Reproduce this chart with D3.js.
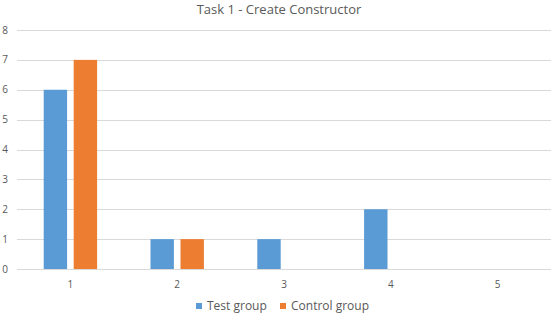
<!DOCTYPE html>
<html>
<head>
<meta charset="utf-8">
<script src="https://cdn.jsdelivr.net/npm/d3@7"></script>
<style>
  body { margin: 0; background: #fff; }
  text { font-family: "Open Sans", "Noto Sans", sans-serif; }
</style>
</head>
<body>
<div id="chart"></div>
<script>
var title = "Task 1 - Create Constructor";
var categories = ["1", "2", "3", "4", "5"];
var series_names = ["Test group", "Control group"];
var test_group = [6, 1, 1, 2, 0];
var control_group = [7, 1, 0, 0, 0];
var y_ticks = [0, 1, 2, 3, 4, 5, 6, 7, 8];
var colors = ["#5b9bd5", "#ed7d31"];

var width = 553, height = 317;
var margin = {top: 30, right: 2, bottom: 48, left: 17};

var svg = d3.select("#chart").append("svg")
  .attr("width", width)
  .attr("height", height);

var x = d3.scaleBand()
  .domain(categories)
  .range([margin.left, width - margin.right])
  .paddingInner(0)
  .paddingOuter(0);

var x_inner = d3.scaleBand()
  .domain(series_names)
  .range([26.7, x.bandwidth() - 26.7])
  .paddingInner(0.22);

var y = d3.scaleLinear()
  .domain([0, 8])
  .range([height - margin.bottom, margin.top]);

//gridlines
svg.append("g")
  .selectAll("line")
  .data(y_ticks)
  .enter()
  .append("line")
  .attr("x1", margin.left)
  .attr("x2", width - margin.right)
  .attr("y1", function(d){ return Math.round(y(d)) + 0.5; })
  .attr("y2", function(d){ return Math.round(y(d)) + 0.5; })
  .attr("stroke", "#d9d9d9")
  .attr("stroke-width", 1);

//y labels
svg.append("g")
  .selectAll("text")
  .data(y_ticks)
  .enter()
  .append("text")
  .attr("x", 8)
  .attr("y", function(d){ return y(d) + 3.5; })
  .attr("text-anchor", "end")
  .attr("font-size", 10)
  .attr("fill", "#595959")
  .text(function(d){ return d; });

//bars
var rows = categories.map(function(c, i){
  return {cat: c, values: [test_group[i], control_group[i]]};
});

var groups = svg.append("g")
  .selectAll("g")
  .data(rows)
  .enter()
  .append("g")
  .attr("transform", function(d){ return "translate(" + x(d.cat) + ",0)"; });

groups.selectAll("rect")
  .data(function(d){
    return d.values.map(function(v, i){ return {name: series_names[i], value: v, i: i}; });
  })
  .enter()
  .append("rect")
  .attr("x", function(d){ return x_inner(d.name); })
  .attr("width", x_inner.bandwidth())
  .attr("y", function(d){ return y(d.value); })
  .attr("height", function(d){ return y(0) - y(d.value); })
  .attr("fill", function(d){ return colors[d.i]; });

//x labels
svg.append("g")
  .selectAll("text")
  .data(categories)
  .enter()
  .append("text")
  .attr("x", function(d){ return x(d) + x.bandwidth() / 2; })
  .attr("y", 288)
  .attr("text-anchor", "middle")
  .attr("font-size", 10)
  .attr("fill", "#595959")
  .text(function(d){ return d; });

//title
svg.append("text")
  .attr("x", 279)
  .attr("y", 14)
  .attr("text-anchor", "middle")
  .attr("font-size", 13)
  .attr("fill", "#595959")
  .text(title);

//legend
var legend_x = [196, 280];
var legend = svg.append("g")
  .selectAll("g")
  .data(series_names)
  .enter()
  .append("g")
  .attr("transform", function(d, i){ return "translate(" + legend_x[i] + ",303)"; });

legend.append("rect")
  .attr("width", 6)
  .attr("height", 6)
  .attr("fill", function(d, i){ return colors[i]; });

legend.append("text")
  .attr("x", 11)
  .attr("y", 7)
  .attr("font-size", 12)
  .attr("fill", "#595959")
  .text(function(d){ return d; });
</script>
</body>
</html>
